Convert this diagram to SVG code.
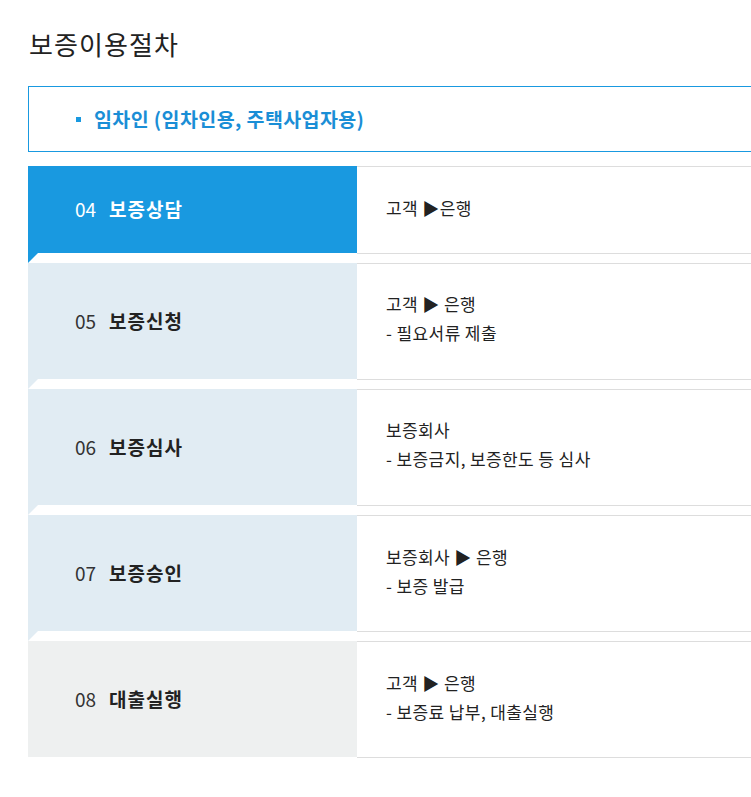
<svg xmlns="http://www.w3.org/2000/svg" width="751" height="797" viewBox="0 0 751 797">
<style>
text{font-family:"Noto Sans CJK KR","Noto Sans",sans-serif;}
.title{font-size:26px;fill:#222;font-weight:400;letter-spacing:1.1px;}
.hdr{font-size:19.5px;fill:#1a8ed6;font-weight:700;letter-spacing:0.4px;}
.num{font-size:19px;fill:#333;font-weight:400;}
.name{font-size:19px;fill:#222;font-weight:700;letter-spacing:1px;}
.numw{font-size:19px;fill:#fff;font-weight:400;}
.namew{font-size:19px;fill:#fff;font-weight:700;letter-spacing:1px;}
.desc{font-size:17px;fill:#222;font-weight:400;letter-spacing:0.4px;}
.ln{stroke:#dddddd;stroke-width:1;}
.blue{fill:#1999e0;}
.lb{fill:#e1ecf3;}
.gr{fill:#eef0f0;}
</style>
<rect width="751" height="797" fill="#fff"/>
<text id="title" class="title" x="29" y="55">보증이용절차</text>
<g id="header">
<rect x="28.5" y="86.5" width="730" height="65" fill="#fff" stroke="#1999e0" stroke-width="1"/>
<rect x="76" y="117" width="5" height="5" fill="#1999e0"/>
<text class="hdr" x="94" y="127">임차인 (임차인용, 주택사업자용)</text>
</g>
<g id="step04">
<rect class="blue" x="28" y="166" width="329" height="87"/>
<polygon class="blue" points="28,253 38,253 28,263"/>
<line class="ln" x1="357" y1="166.5" x2="751" y2="166.5"/>
<line class="ln" x1="357" y1="253.5" x2="751" y2="253.5"/>
<text class="numw" x="75" y="217">04</text>
<text class="namew" x="109" y="217">보증상담</text>
<text class="desc" x="386" y="215">고객 ▶은행</text>
</g>
<g id="step05">
<rect class="lb" x="28" y="263" width="329" height="116"/>
<polygon class="lb" points="28,379 38,379 28,389"/>
<line class="ln" x1="357" y1="263.5" x2="751" y2="263.5"/>
<line class="ln" x1="357" y1="379.5" x2="751" y2="379.5"/>
<text class="num" x="75" y="329">05</text>
<text class="name" x="109" y="329">보증신청</text>
<text class="desc" x="386" y="311">고객 ▶ 은행</text>
<text class="desc" x="386" y="340">- 필요서류 제출</text>
</g>
<g id="step06">
<rect class="lb" x="28" y="389" width="329" height="116"/>
<polygon class="lb" points="28,505 38,505 28,515"/>
<line class="ln" x1="357" y1="389.5" x2="751" y2="389.5"/>
<line class="ln" x1="357" y1="505.5" x2="751" y2="505.5"/>
<text class="num" x="75" y="455">06</text>
<text class="name" x="109" y="455">보증심사</text>
<text class="desc" x="386" y="437">보증회사</text>
<text class="desc" x="386" y="466">- 보증금지, 보증한도 등 심사</text>
</g>
<g id="step07">
<rect class="lb" x="28" y="515" width="329" height="116"/>
<polygon class="lb" points="28,631 38,631 28,641"/>
<line class="ln" x1="357" y1="515.5" x2="751" y2="515.5"/>
<line class="ln" x1="357" y1="631.5" x2="751" y2="631.5"/>
<text class="num" x="75" y="581">07</text>
<text class="name" x="109" y="581">보증승인</text>
<text class="desc" x="386" y="564">보증회사 ▶ 은행</text>
<text class="desc" x="386" y="593">- 보증 발급</text>
</g>
<g id="step08">
<rect class="gr" x="28" y="641" width="329" height="116"/>
<line class="ln" x1="357" y1="641.5" x2="751" y2="641.5"/>
<line class="ln" x1="357" y1="757.5" x2="751" y2="757.5"/>
<text class="num" x="75" y="707">08</text>
<text class="name" x="109" y="707">대출실행</text>
<text class="desc" x="386" y="690">고객 ▶ 은행</text>
<text class="desc" x="386" y="719">- 보증료 납부, 대출실행</text>
</g>
</svg>
